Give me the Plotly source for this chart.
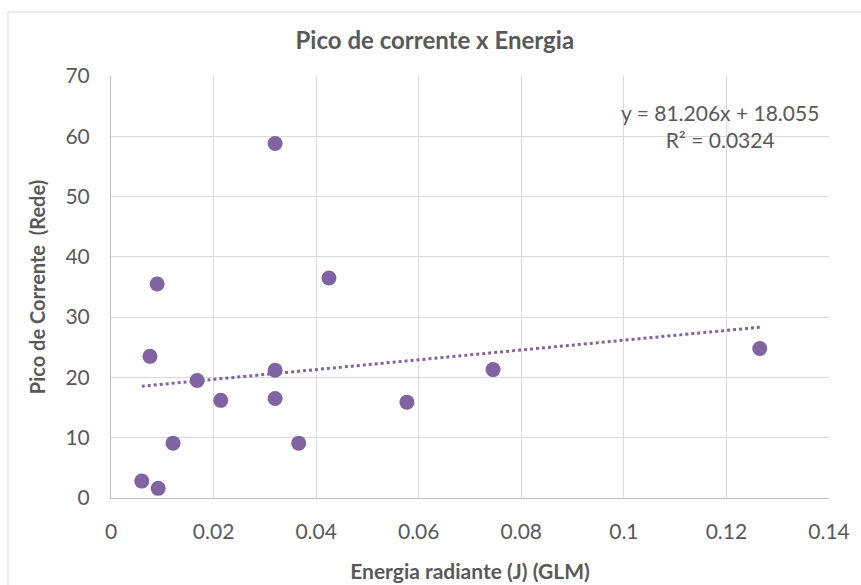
import plotly.graph_objects as go

# energia radiante (J) e pico de corrente (rede)
energia = [0.0060, 0.0092, 0.0076, 0.0090, 0.0121, 0.0168, 0.0214, 0.0320,
           0.0320, 0.0320, 0.0366, 0.0425, 0.0577, 0.0745, 0.1265]
pico = [2.8, 1.6, 23.5, 35.5, 9.1, 19.5, 16.2, 58.8,
        21.2, 16.5, 9.1, 36.5, 15.9, 21.3, 24.8]

# linha de tendência (equação do gráfico)
coef_a = 81.206
coef_b = 18.055
r2 = 0.0324

x_ticks = [0, 0.02, 0.04, 0.06, 0.08, 0.1, 0.12, 0.14]
x_tick_text = ['0', '0.02', '0.04', '0.06', '0.08', '0.1', '0.12', '0.14']
y_ticks = [0, 10, 20, 30, 40, 50, 60, 70]

roxo = '#8064A2'
cinza = '#595959'

x_trend = [min(energia), max(energia)]
y_trend = [coef_a * v + coef_b for v in x_trend]

fig = go.Figure()

fig.add_trace(go.Scatter(
    x=x_trend, y=y_trend, mode='lines',
    line=dict(color=roxo, width=3, dash='dot'),
    hoverinfo='skip', showlegend=False,
))
fig.add_trace(go.Scatter(
    x=energia, y=pico, mode='markers',
    marker=dict(color=roxo, size=15),
    showlegend=False,
))

fig.update_layout(
    width=861, height=585,
    margin=dict(l=111, r=32, t=76, b=87),
    paper_bgcolor='white', plot_bgcolor='white',
    font=dict(family='Lato, Open Sans, sans-serif', size=21, color=cinza),
    title=dict(text='<b>Pico de corrente x Energia</b>', x=0.505, xanchor='center',
               y=0.93, yanchor='middle', font=dict(size=24, color=cinza)),
    shapes=[dict(type='rect', xref='paper', yref='paper',
                 x0=-0.1435, y0=-0.5, x1=1.5, y1=1.1517,
                 line=dict(color='#D9D9D9', width=1), layer='below')],
    annotations=[dict(text=f'y = {coef_a}x + {coef_b}<br>R² = {r2}',
                      xref='paper', yref='paper', x=0.848, y=0.882,
                      xanchor='center', yanchor='middle', showarrow=False,
                      align='center', font=dict(size=21, color=cinza))],
)

fig.update_xaxes(
    range=[0, 0.14], tickvals=x_ticks, ticktext=x_tick_text,
    showgrid=True, gridcolor='#D9D9D9', gridwidth=1,
    showline=True, linecolor='#BFBFBF', linewidth=1,
    ticks='outside', ticklen=15, tickcolor='rgba(0,0,0,0)',
    zeroline=False, automargin=False,
    title=dict(text='<b>Energia radiante (J) (GLM)</b>', standoff=22,
               font=dict(size=21, color=cinza)),
)
fig.update_yaxes(
    range=[0, 70], tickvals=y_ticks,
    showgrid=True, gridcolor='#D9D9D9', gridwidth=1,
    showline=True, linecolor='#BFBFBF', linewidth=1,
    ticks='outside', ticklen=16, tickcolor='rgba(0,0,0,0)',
    zeroline=False, automargin=False,
    title=dict(text='<b>Pico de Corrente  (Rede)</b>', standoff=14,
               font=dict(size=20, color=cinza)),
)

fig.write_html('out.html', config={'displayModeBar': False},
               post_script="document.body.style.margin='0';")
